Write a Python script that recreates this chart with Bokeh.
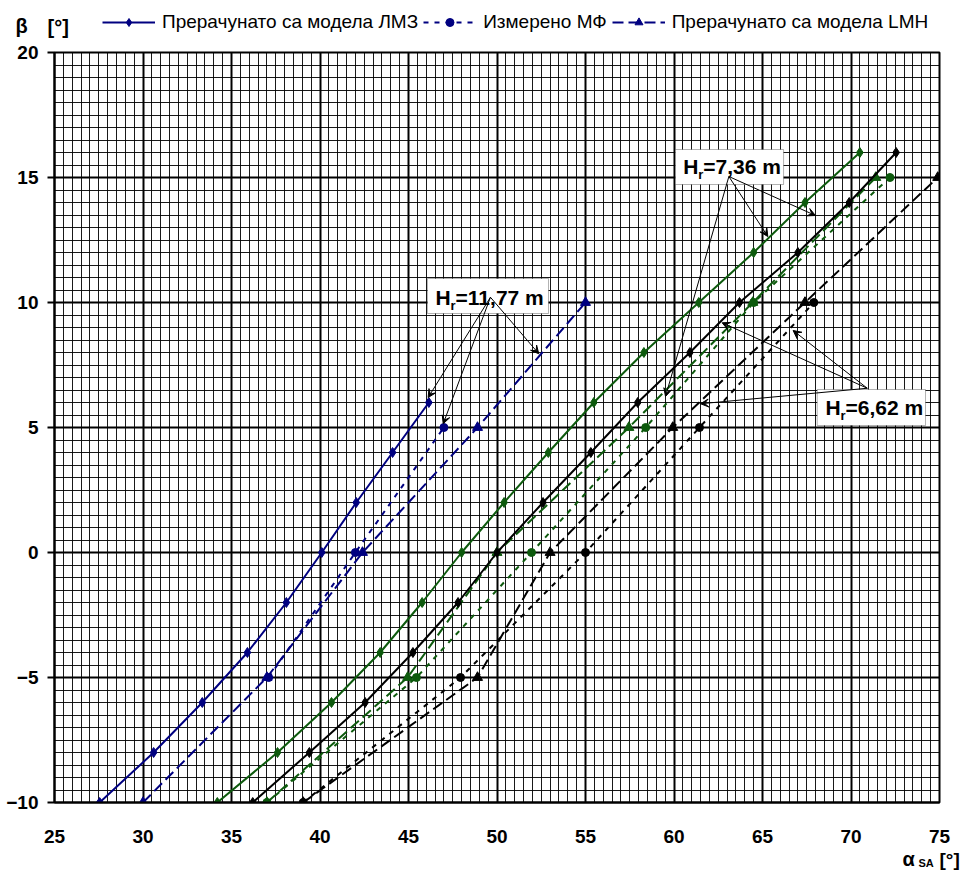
from bokeh.plotting import figure
from bokeh.models import (Legend, LegendItem, Label, Arrow, VeeHead, BoxAnnotation,
                          SingleIntervalTicker, Range1d)
from bokeh.embed import file_html
from bokeh.resources import INLINE

# ---------------- data ----------------
# H_r = 11,77 m (blue)
blue_lmz_x = [27.55, 30.6, 33.35, 35.9, 38.1, 40.1, 42.05, 44.1, 46.15]
blue_lmz_y = [-10, -8, -6, -4, -2, 0, 2, 4, 6]
blue_mf_x = [37.1, 42.0, 47.0]
blue_mf_y = [-5, 0, 5]
blue_lmh_x = [30.0, 37.0, 42.4, 48.9, 55.0]
blue_lmh_y = [-10, -5, 0, 5, 10]

# H_r = 7,36 m (green)
green_lmz_x = [34.2, 37.6, 40.65, 43.4, 45.77, 48.0, 50.4, 52.9, 55.47, 58.3, 61.4, 64.5, 67.4, 70.5]
green_lmz_y = [-10, -8, -6, -4, -2, 0, 2, 4, 6, 8, 10, 12, 14, 16]
green_mf_x = [37.0, 45.45, 51.95, 58.4, 64.5, 72.2]
green_mf_y = [-10, -5, 0, 5, 10, 15]
green_lmh_x = [37.0, 44.95, 50.0, 57.45, 64.45, 71.4]
green_lmh_y = [-10, -5, 0, 5, 10, 15]

# H_r = 6,62 m (black)
black_lmz_x = [36.2, 39.4, 42.55, 45.25, 47.8, 50.0, 52.6, 55.3, 57.95, 60.9, 63.7, 67.0, 69.9, 72.55]
black_lmz_y = [-10, -8, -6, -4, -2, 0, 2, 4, 6, 8, 10, 12, 14, 16]
black_mf_x = [39.05, 47.94, 55.0, 61.44, 67.9]
black_mf_y = [-10, -5, 0, 5, 10]
black_lmh_x = [39.05, 48.9, 53.0, 59.93, 67.4, 74.9]
black_lmh_y = [-10, -5, 0, 5, 10, 15]

legend_labels = ["Прерачунато са модела ЛМЗ", "Измерено МФ", "Прерачунато са модела LMH"]

# annotation boxes: text, box (left, right, bottom, top), text anchor, arrow origin, arrow targets
boxes = [
    ("=11,77 m", (46.07, 52.91, 9.56, 10.96), (46.53, 9.88), (49.63, 10.21),
     [(46.11, 6.2), (46.96, 5.15), (52.36, 7.95)]),
    ("=7,36 m", (60.08, 66.19, 14.72, 16.12), (60.52, 15.11), (63.10, 15.04),
     [(67.99, 13.48), (65.30, 12.64), (59.52, 6.24)]),
    ("=6,62 m", (68.09, 74.21, 5.08, 6.52), (68.56, 5.48), (70.92, 6.57),
     [(62.72, 9.19), (66.73, 8.88), (61.5, 5.95)]),
]

BLUE = "#000080"
GREEN = "#0d5a0d"
BLACK = "#000000"
FONT = "Liberation Sans"

STYLE = {
    "lmz": dict(dash="solid", marker="diamond", size=10),
    "mf": dict(dash="5 6", marker="circle", size=8),
    "lmh": dict(dash="11 5", marker="triangle", size=10),
}


def draw(fig, xs, ys, color, kind):
    st = STYLE[kind]
    ln = fig.line(xs, ys, line_color=color, line_width=2, line_dash=st["dash"])
    sc = fig.scatter(xs, ys, marker=st["marker"], size=st["size"], color=color)
    return [ln, sc]


def txt_label(x, y, text, size, dy=0, dx=0, bold=True):
    # alphabetic baseline renders about 0.38 em low; compensate in pixels
    return Label(x=x, y=y, x_offset=dx, y_offset=dy + round(0.38 * size), text=text,
                 text_font=FONT, text_font_style="bold" if bold else "normal",
                 text_font_size=f"{size}px", text_color="black",
                 text_baseline="alphabetic")


def bare(width, height, yr):
    f = figure(width=width, height=height, x_range=Range1d(0, width), y_range=yr,
               x_axis_type=None, y_axis_type=None, output_backend="svg",
               toolbar_location=None, min_border=0)
    f.outline_line_color = None
    f.background_fill_color = "white"
    f.border_fill_color = "white"
    return f


# ---------------- header (legend + y title) ----------------
# y range is offset so that the legend's source series stay out of view
header = bare(960, 40, Range1d(140, 100))
h1 = draw(header, blue_lmz_x, blue_lmz_y, BLUE, "lmz")
h2 = draw(header, blue_mf_x, blue_mf_y, BLUE, "mf")
h3 = draw(header, blue_lmh_x, blue_lmh_y, BLUE, "lmh")
legend = Legend(items=[LegendItem(label=legend_labels[0], renderers=h1),
                       LegendItem(label=legend_labels[1], renderers=h2),
                       LegendItem(label=legend_labels[2], renderers=h3)],
                location=(102, 7), orientation="horizontal", padding=0, margin=0,
                spacing=5, glyph_width=53, glyph_height=20, label_height=20,
                label_standoff=7, label_text_font=FONT, label_text_font_size="19px",
                label_text_color="black", border_line_color=None,
                background_fill_alpha=0)
header.add_layout(legend)
header.add_layout(txt_label(15, 133.5, "β", 20))
header.add_layout(txt_label(47, 134, "[°]", 20))

# ---------------- main chart ----------------
p = figure(width=960, height=808, x_range=Range1d(25, 75), y_range=Range1d(-10, 20),
           output_backend="svg", toolbar_location=None,
           min_border_left=54, min_border_right=21, min_border_top=12, min_border_bottom=46)
p.background_fill_color = "white"
p.border_fill_color = "white"
p.outline_line_color = "black"
p.outline_line_width = 2

tx = SingleIntervalTicker(interval=5, num_minor_ticks=10)
ty = SingleIntervalTicker(interval=5, num_minor_ticks=10)
p.xaxis.ticker = tx
p.yaxis.ticker = ty
p.xgrid.ticker = tx
p.ygrid.ticker = ty
for g in (p.xgrid, p.ygrid):
    g.grid_line_color = "black"
    g.grid_line_width = 2
    g.grid_line_alpha = 1
    g.minor_grid_line_color = "black"
    g.minor_grid_line_width = 1
    g.minor_grid_line_alpha = 0.9

for ax in (p.xaxis, p.yaxis):
    ax.axis_line_color = "black"
    ax.axis_line_width = 2
    ax.major_label_text_font = FONT
    ax.major_label_text_font_style = "bold"
    ax.major_label_text_font_size = "19px"
    ax.major_label_text_color = "black"
    ax.minor_tick_line_color = None
    ax.major_tick_in = 0
p.xaxis.major_tick_out = 0
p.xaxis.major_tick_line_color = None
p.xaxis.major_label_standoff = 23
p.yaxis.major_tick_out = 7
p.yaxis.major_tick_line_width = 2
p.yaxis.major_tick_line_color = "black"
p.yaxis.major_label_standoff = 9

draw(p, blue_lmz_x, blue_lmz_y, BLUE, "lmz")
draw(p, blue_mf_x, blue_mf_y, BLUE, "mf")
draw(p, blue_lmh_x, blue_lmh_y, BLUE, "lmh")
draw(p, green_lmz_x, green_lmz_y, GREEN, "lmz")
draw(p, green_mf_x, green_mf_y, GREEN, "mf")
draw(p, green_lmh_x, green_lmh_y, GREEN, "lmh")
draw(p, black_lmz_x, black_lmz_y, BLACK, "lmz")
draw(p, black_mf_x, black_mf_y, BLACK, "mf")
draw(p, black_lmh_x, black_lmh_y, BLACK, "lmh")

for txt, (l, r, b, t), (ax_, ay_), (ox, oy), targets in boxes:
    p.add_layout(BoxAnnotation(left=l, right=r, bottom=b, top=t, fill_color="white",
                               fill_alpha=1, line_color="black", line_width=1))
    p.add_layout(txt_label(ax_, ay_, "H", 21))
    p.add_layout(txt_label(ax_, ay_, "r", 13, dy=-5, dx=15))
    p.add_layout(txt_label(ax_, ay_, txt, 21, dx=20))
    for (tx_, ty_) in targets:
        p.add_layout(Arrow(x_start=ox, y_start=oy, x_end=tx_, y_end=ty_, line_width=1,
                           line_color="black",
                           end=VeeHead(size=8, line_color="black", line_width=1,
                                       fill_color="black")))

# ---------------- footer (x title) ----------------
footer = bare(960, 23, Range1d(23, 0))
footer.add_layout(txt_label(902, 18, "α", 20))
footer.add_layout(txt_label(918, 18, "SA", 11))
footer.add_layout(txt_label(939, 18, "[°]", 19))

open("out.html", "w").write(file_html([header, p, footer], INLINE))
